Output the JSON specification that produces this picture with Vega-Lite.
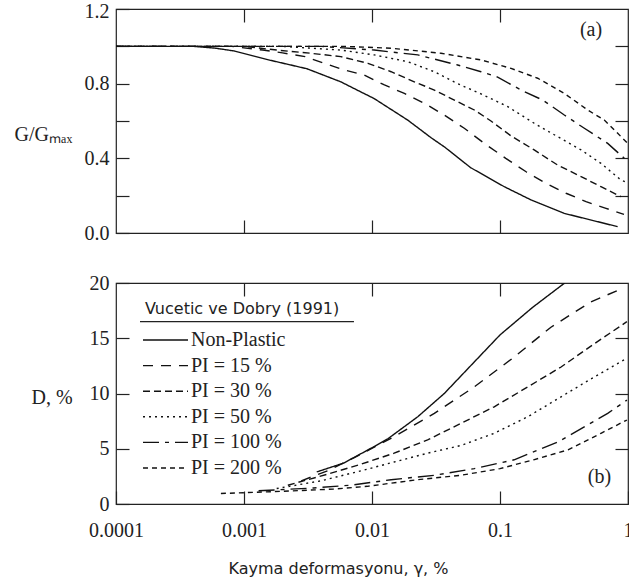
{
  "$schema": "https://vega.github.io/schema/vega-lite/v6.json",
  "padding": {"left": 13, "top": 0, "right": 0, "bottom": 0},
  "background": "white",
  "spacing": 50,
  "bounds": "flush",
  "resolve": {"scale": {"strokeDash": "independent"}, "legend": {"strokeDash": "independent"}},
  "config": {
    "view": {"stroke": "#222", "strokeWidth": 1.2},
    "axis": {"domain": false, "grid": false, "tickColor": "#222", "tickWidth": 1.2, "tickSize": -13,
      "labelFont": "Liberation Serif", "labelFontSize": 20, "labelColor": "#222",
      "titleFont": "Liberation Serif", "titleFontSize": 20, "titleFontWeight": "normal", "titleColor": "#222",
      "labelFlush": false, "labelOverlap": false},
    "line": {"color": "#111", "strokeWidth": 1.4}
  },
  "datasets": {
    "gg": [
      {"series": "Non-Plastic", "gamma": 0.0001, "v": 1},
      {"series": "Non-Plastic", "gamma": 0.0004, "v": 1},
      {"series": "Non-Plastic", "gamma": 0.0006, "v": 0.99},
      {"series": "Non-Plastic", "gamma": 0.00084, "v": 0.975},
      {"series": "Non-Plastic", "gamma": 0.0015, "v": 0.93},
      {"series": "Non-Plastic", "gamma": 0.0031, "v": 0.88},
      {"series": "Non-Plastic", "gamma": 0.0057, "v": 0.81},
      {"series": "Non-Plastic", "gamma": 0.0104, "v": 0.72},
      {"series": "Non-Plastic", "gamma": 0.019, "v": 0.605},
      {"series": "Non-Plastic", "gamma": 0.029, "v": 0.51},
      {"series": "Non-Plastic", "gamma": 0.037, "v": 0.46},
      {"series": "Non-Plastic", "gamma": 0.059, "v": 0.35},
      {"series": "Non-Plastic", "gamma": 0.108, "v": 0.248},
      {"series": "Non-Plastic", "gamma": 0.175, "v": 0.177},
      {"series": "Non-Plastic", "gamma": 0.318, "v": 0.105},
      {"series": "Non-Plastic", "gamma": 0.83, "v": 0.034},

      {"series": "PI = 15 %", "gamma": 0.0001, "v": 1},
      {"series": "PI = 15 %", "gamma": 0.0008, "v": 1},
      {"series": "PI = 15 %", "gamma": 0.0014, "v": 0.98},
      {"series": "PI = 15 %", "gamma": 0.002, "v": 0.965},
      {"series": "PI = 15 %", "gamma": 0.003, "v": 0.945},
      {"series": "PI = 15 %", "gamma": 0.0042, "v": 0.91},
      {"series": "PI = 15 %", "gamma": 0.0061, "v": 0.873},
      {"series": "PI = 15 %", "gamma": 0.0087, "v": 0.846},
      {"series": "PI = 15 %", "gamma": 0.0125, "v": 0.793},
      {"series": "PI = 15 %", "gamma": 0.0179, "v": 0.748},
      {"series": "PI = 15 %", "gamma": 0.0256, "v": 0.695},
      {"series": "PI = 15 %", "gamma": 0.0367, "v": 0.632},
      {"series": "PI = 15 %", "gamma": 0.0526, "v": 0.561},
      {"series": "PI = 15 %", "gamma": 0.0754, "v": 0.48},
      {"series": "PI = 15 %", "gamma": 0.111, "v": 0.4},
      {"series": "PI = 15 %", "gamma": 0.16, "v": 0.328},
      {"series": "PI = 15 %", "gamma": 0.229, "v": 0.266},
      {"series": "PI = 15 %", "gamma": 0.328, "v": 0.213},
      {"series": "PI = 15 %", "gamma": 0.47, "v": 0.168},
      {"series": "PI = 15 %", "gamma": 0.673, "v": 0.132},
      {"series": "PI = 15 %", "gamma": 0.93, "v": 0.1},

      {"series": "PI = 30 %", "gamma": 0.0001, "v": 1},
      {"series": "PI = 30 %", "gamma": 0.001, "v": 1},
      {"series": "PI = 30 %", "gamma": 0.0018, "v": 0.98},
      {"series": "PI = 30 %", "gamma": 0.0033, "v": 0.963},
      {"series": "PI = 30 %", "gamma": 0.0057, "v": 0.945},
      {"series": "PI = 30 %", "gamma": 0.0093, "v": 0.909},
      {"series": "PI = 30 %", "gamma": 0.0141, "v": 0.864},
      {"series": "PI = 30 %", "gamma": 0.0214, "v": 0.81},
      {"series": "PI = 30 %", "gamma": 0.0307, "v": 0.766},
      {"series": "PI = 30 %", "gamma": 0.044, "v": 0.712},
      {"series": "PI = 30 %", "gamma": 0.063, "v": 0.659},
      {"series": "PI = 30 %", "gamma": 0.085, "v": 0.6},
      {"series": "PI = 30 %", "gamma": 0.122, "v": 0.52},
      {"series": "PI = 30 %", "gamma": 0.185, "v": 0.445},
      {"series": "PI = 30 %", "gamma": 0.282, "v": 0.364},
      {"series": "PI = 30 %", "gamma": 0.43, "v": 0.302},
      {"series": "PI = 30 %", "gamma": 0.615, "v": 0.248},
      {"series": "PI = 30 %", "gamma": 0.88, "v": 0.195},

      {"series": "PI = 50 %", "gamma": 0.0001, "v": 1},
      {"series": "PI = 50 %", "gamma": 0.002, "v": 1},
      {"series": "PI = 50 %", "gamma": 0.0057, "v": 0.98},
      {"series": "PI = 50 %", "gamma": 0.0104, "v": 0.954},
      {"series": "PI = 50 %", "gamma": 0.019, "v": 0.918},
      {"series": "PI = 50 %", "gamma": 0.0307, "v": 0.864},
      {"series": "PI = 50 %", "gamma": 0.0467, "v": 0.8},
      {"series": "PI = 50 %", "gamma": 0.0711, "v": 0.745},
      {"series": "PI = 50 %", "gamma": 0.0959, "v": 0.703},
      {"series": "PI = 50 %", "gamma": 0.115, "v": 0.677},
      {"series": "PI = 50 %", "gamma": 0.185, "v": 0.588},
      {"series": "PI = 50 %", "gamma": 0.282, "v": 0.516},
      {"series": "PI = 50 %", "gamma": 0.43, "v": 0.445},
      {"series": "PI = 50 %", "gamma": 0.615, "v": 0.373},
      {"series": "PI = 50 %", "gamma": 0.88, "v": 0.284},
      {"series": "PI = 50 %", "gamma": 0.99, "v": 0.27},

      {"series": "PI = 100 %", "gamma": 0.0001, "v": 1},
      {"series": "PI = 100 %", "gamma": 0.004, "v": 1},
      {"series": "PI = 100 %", "gamma": 0.0104, "v": 0.98},
      {"series": "PI = 100 %", "gamma": 0.0228, "v": 0.954},
      {"series": "PI = 100 %", "gamma": 0.0467, "v": 0.9},
      {"series": "PI = 100 %", "gamma": 0.0711, "v": 0.864},
      {"series": "PI = 100 %", "gamma": 0.0959, "v": 0.835},
      {"series": "PI = 100 %", "gamma": 0.146, "v": 0.766},
      {"series": "PI = 100 %", "gamma": 0.216, "v": 0.712},
      {"series": "PI = 100 %", "gamma": 0.318, "v": 0.632},
      {"series": "PI = 100 %", "gamma": 0.456, "v": 0.561},
      {"series": "PI = 100 %", "gamma": 0.694, "v": 0.48},
      {"series": "PI = 100 %", "gamma": 0.936, "v": 0.4},

      {"series": "PI = 200 %", "gamma": 0.0001, "v": 1},
      {"series": "PI = 200 %", "gamma": 0.006, "v": 1},
      {"series": "PI = 200 %", "gamma": 0.0141, "v": 0.99},
      {"series": "PI = 200 %", "gamma": 0.0346, "v": 0.963},
      {"series": "PI = 200 %", "gamma": 0.0711, "v": 0.927},
      {"series": "PI = 200 %", "gamma": 0.122, "v": 0.882},
      {"series": "PI = 200 %", "gamma": 0.197, "v": 0.829},
      {"series": "PI = 200 %", "gamma": 0.318, "v": 0.748},
      {"series": "PI = 200 %", "gamma": 0.484, "v": 0.659},
      {"series": "PI = 200 %", "gamma": 0.653, "v": 0.605},
      {"series": "PI = 200 %", "gamma": 0.831, "v": 0.534},
      {"series": "PI = 200 %", "gamma": 0.995, "v": 0.48}
    ],
    "damp": [
      {"series": "Non-Plastic", "gamma": 0.0037, "v": 2.9},
      {"series": "Non-Plastic", "gamma": 0.006, "v": 3.7},
      {"series": "Non-Plastic", "gamma": 0.0104, "v": 5.2},
      {"series": "Non-Plastic", "gamma": 0.0133, "v": 5.9},
      {"series": "Non-Plastic", "gamma": 0.0228, "v": 7.9},
      {"series": "Non-Plastic", "gamma": 0.0367, "v": 10.0},
      {"series": "Non-Plastic", "gamma": 0.06, "v": 12.6},
      {"series": "Non-Plastic", "gamma": 0.1, "v": 15.3},
      {"series": "Non-Plastic", "gamma": 0.18, "v": 17.8},
      {"series": "Non-Plastic", "gamma": 0.32, "v": 20.0},

      {"series": "PI = 15 %", "gamma": 0.0028, "v": 2.1},
      {"series": "PI = 15 %", "gamma": 0.0045, "v": 3.0},
      {"series": "PI = 15 %", "gamma": 0.0082, "v": 4.5},
      {"series": "PI = 15 %", "gamma": 0.0149, "v": 6.1},
      {"series": "PI = 15 %", "gamma": 0.0307, "v": 8.2},
      {"series": "PI = 15 %", "gamma": 0.063, "v": 10.6},
      {"series": "PI = 15 %", "gamma": 0.129, "v": 13.3},
      {"series": "PI = 15 %", "gamma": 0.25, "v": 16.0},
      {"series": "PI = 15 %", "gamma": 0.514, "v": 18.3},
      {"series": "PI = 15 %", "gamma": 0.9, "v": 19.5},

      {"series": "PI = 30 %", "gamma": 0.0022, "v": 1.7},
      {"series": "PI = 30 %", "gamma": 0.0045, "v": 2.7},
      {"series": "PI = 30 %", "gamma": 0.0082, "v": 3.6},
      {"series": "PI = 30 %", "gamma": 0.0149, "v": 4.6},
      {"series": "PI = 30 %", "gamma": 0.0272, "v": 5.8},
      {"series": "PI = 30 %", "gamma": 0.0496, "v": 7.3},
      {"series": "PI = 30 %", "gamma": 0.0902, "v": 8.8},
      {"series": "PI = 30 %", "gamma": 0.165, "v": 10.6},
      {"series": "PI = 30 %", "gamma": 0.3, "v": 12.4},
      {"series": "PI = 30 %", "gamma": 0.545, "v": 14.5},
      {"series": "PI = 30 %", "gamma": 0.98, "v": 16.5},

      {"series": "PI = 50 %", "gamma": 0.0018, "v": 1.4},
      {"series": "PI = 50 %", "gamma": 0.004, "v": 2.1},
      {"series": "PI = 50 %", "gamma": 0.0082, "v": 3.0},
      {"series": "PI = 50 %", "gamma": 0.0149, "v": 3.8},
      {"series": "PI = 50 %", "gamma": 0.0272, "v": 4.6},
      {"series": "PI = 50 %", "gamma": 0.0496, "v": 5.3},
      {"series": "PI = 50 %", "gamma": 0.0902, "v": 6.4},
      {"series": "PI = 50 %", "gamma": 0.165, "v": 7.9},
      {"series": "PI = 50 %", "gamma": 0.3, "v": 9.7},
      {"series": "PI = 50 %", "gamma": 0.545, "v": 11.5},
      {"series": "PI = 50 %", "gamma": 0.98, "v": 13.2},

      {"series": "PI = 100 %", "gamma": 0.0013, "v": 1.2},
      {"series": "PI = 100 %", "gamma": 0.0035, "v": 1.45},
      {"series": "PI = 100 %", "gamma": 0.0068, "v": 1.7},
      {"series": "PI = 100 %", "gamma": 0.0141, "v": 2.2},
      {"series": "PI = 100 %", "gamma": 0.0307, "v": 2.6},
      {"series": "PI = 100 %", "gamma": 0.063, "v": 3.2},
      {"series": "PI = 100 %", "gamma": 0.129, "v": 4.0},
      {"series": "PI = 100 %", "gamma": 0.282, "v": 5.6},
      {"series": "PI = 100 %", "gamma": 0.694, "v": 8.2},
      {"series": "PI = 100 %", "gamma": 0.98, "v": 9.4},

      {"series": "PI = 200 %", "gamma": 0.00066, "v": 0.95},
      {"series": "PI = 200 %", "gamma": 0.002, "v": 1.15},
      {"series": "PI = 200 %", "gamma": 0.005, "v": 1.35},
      {"series": "PI = 200 %", "gamma": 0.0092, "v": 1.6},
      {"series": "PI = 200 %", "gamma": 0.0228, "v": 2.2},
      {"series": "PI = 200 %", "gamma": 0.0496, "v": 2.6},
      {"series": "PI = 200 %", "gamma": 0.1, "v": 3.2},
      {"series": "PI = 200 %", "gamma": 0.183, "v": 4.0},
      {"series": "PI = 200 %", "gamma": 0.34, "v": 4.9},
      {"series": "PI = 200 %", "gamma": 0.615, "v": 6.4},
      {"series": "PI = 200 %", "gamma": 0.98, "v": 7.6}
    ]
  },
  "vconcat": [
    {
      "width": 512,
      "height": 224,
      "layer": [
        {
          "data": {"name": "gg"},
          "mark": {"type": "line", "clip": true},
          "encoding": {
            "x": {"field": "gamma", "type": "quantitative",
              "scale": {"type": "log", "domain": [0.0001, 1], "nice": false},
              "axis": {"orient": "bottom", "values": [0.001, 0.01, 0.1], "labels": false, "title": null}},
            "y": {"field": "v", "type": "quantitative",
              "scale": {"domain": [0, 1.2], "nice": false, "zero": false},
              "axis": {"orient": "left", "values": [0, 0.2, 0.4, 0.6, 0.8, 1, 1.2],
                "labelExpr": "indexof([0, 0.4, 0.8, 1.2], datum.value) >= 0 ? format(datum.value, '.1f') : ''",
                "labelPadding": 20,
                "labelOffset": {"condition": {"test": "datum.value == 1.2", "value": 2}, "value": 0},
                "title": "G/Gₘₐₓ", "titleAngle": 0, "titleAlign": "left", "titleBaseline": "alphabetic",
                "titleX": -102, "titleY": 131}},
            "strokeDash": {"field": "series", "type": "nominal",
              "scale": {"domain": ["Non-Plastic", "PI = 15 %", "PI = 30 %", "PI = 50 %", "PI = 100 %", "PI = 200 %"],
                "range": [[1, 0], [10, 8], [7, 4], [2, 4], [16, 6, 4, 6], [5, 4]]},
              "legend": null}
          }
        },
        {
          "data": {"values": [{"label": "(a)"}]},
          "mark": {"type": "text", "font": "Liberation Serif", "fontSize": 20, "color": "#222", "baseline": "middle", "align": "center"},
          "encoding": {
            "text": {"field": "label"},
            "x": {"datum": 0.514, "type": "quantitative",
              "scale": {"type": "log", "domain": [0.0001, 1], "nice": false},
              "axis": {"orient": "top", "values": [0.001, 0.01, 0.1], "labels": false, "title": null}},
            "y": {"datum": 1.085, "type": "quantitative",
              "scale": {"domain": [0, 1.2], "nice": false, "zero": false},
              "axis": {"orient": "right", "values": [0.2, 0.4, 0.6, 0.8, 1], "labels": false, "title": null}}
          }
        }
      ],
      "resolve": {"axis": {"x": "independent", "y": "independent"}}
    },
    {
      "width": 512,
      "height": 221,
      "layer": [
        {
          "data": {"name": "damp"},
          "mark": {"type": "line", "clip": true},
          "encoding": {
            "x": {"field": "gamma", "type": "quantitative",
              "scale": {"type": "log", "domain": [0.0001, 1], "nice": false},
              "axis": {"orient": "bottom", "values": [0.0001, 0.001, 0.01, 0.1, 1], "format": "~g",
                "labelPadding": 29,
                "title": "Kayma deformasyonu, γ, %", "titleFont": "DejaVu Sans", "titleFontSize": 16,
                "titleBaseline": "alphabetic", "titleAnchor": "start", "titleAlign": "center", "titleX": 222, "titleY": 69}},
            "y": {"field": "v", "type": "quantitative",
              "scale": {"domain": [0, 20], "nice": false},
              "axis": {"orient": "left", "values": [0, 5, 10, 15, 20], "labelPadding": 20,
                "title": "D, %", "titleAngle": 0, "titleAlign": "left", "titleBaseline": "alphabetic",
                "titleX": -85, "titleY": 120}},
            "strokeDash": {"field": "series", "type": "nominal",
              "scale": {"domain": ["Non-Plastic", "PI = 15 %", "PI = 30 %", "PI = 50 %", "PI = 100 %", "PI = 200 %"],
                "range": [[1, 0], [10, 8], [7, 4], [2, 4], [16, 6, 4, 6], [5, 4]]},
              "legend": {"orient": "none", "legendX": 29, "legendY": 18, "padding": 0,
                "title": "Vucetic ve Dobry (1991)", "titleFont": "DejaVu Sans", "titleFontSize": 16,
                "titleFontWeight": "normal", "titleColor": "#222", "titlePadding": 13, "titleLimit": 400,
                "labelFont": "Liberation Serif", "labelFontSize": 20, "labelColor": "#222", "labelLimit": 300,
                "symbolType": "M-2.4,0H6.6", "symbolSize": 100, "symbolStrokeWidth": 1.3,
                "symbolStrokeColor": "#111", "labelOffset": 26, "rowPadding": 5.6}}
          }
        },
        {
          "data": {"values": [{"label": "(b)"}]},
          "mark": {"type": "text", "font": "Liberation Serif", "fontSize": 20, "color": "#222", "baseline": "middle", "align": "center"},
          "encoding": {
            "text": {"field": "label"},
            "x": {"datum": 0.598, "type": "quantitative",
              "scale": {"type": "log", "domain": [0.0001, 1], "nice": false},
              "axis": {"orient": "top", "values": [0.001, 0.01, 0.1], "labels": false, "title": null}},
            "y": {"datum": 2.44, "type": "quantitative",
              "scale": {"domain": [0, 20], "nice": false},
              "axis": {"orient": "right", "values": [5, 10, 15], "labels": false, "title": null}}
          }
        },
        {
          "data": {"values": [{"label": "underline"}]},
          "mark": {"type": "rule", "color": "#222", "strokeWidth": 1.2},
          "encoding": {
            "x": {"datum": 0.000154, "type": "quantitative", "axis": null},
            "x2": {"datum": 0.00723},
            "y": {"datum": 16.5, "type": "quantitative", "axis": null}
          }
        }
      ],
      "resolve": {"axis": {"x": "independent", "y": "independent"}}
    }
  ]
}
